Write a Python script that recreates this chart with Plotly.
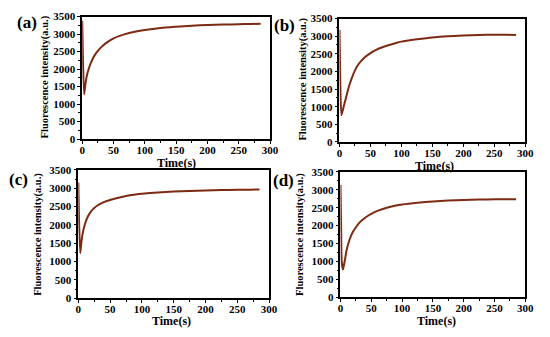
import plotly.graph_objects as go

# ---- data ----
time_a = [0, 1, 3, 5, 7, 10, 15, 20, 25, 30, 40, 50, 60, 75, 90, 100, 125, 150, 175, 200, 225, 250, 270, 285]
int_a = [3380, 2400, 1280, 1550, 1780, 1990, 2230, 2400, 2520, 2620, 2770, 2880, 2950, 3030, 3090, 3120, 3175, 3210, 3240, 3258, 3272, 3282, 3290, 3295]

time_b = [0, 1, 3, 5, 7, 10, 15, 20, 25, 30, 40, 50, 60, 75, 90, 100, 125, 150, 175, 200, 225, 250, 270, 285]
int_b = [3180, 2000, 760, 880, 1020, 1220, 1560, 1820, 2030, 2190, 2390, 2520, 2620, 2720, 2800, 2845, 2910, 2965, 3000, 3020, 3035, 3042, 3038, 3030]

time_c = [0, 1, 3, 5, 7, 10, 15, 20, 25, 30, 40, 50, 60, 75, 90, 100, 125, 150, 175, 200, 225, 250, 270, 285]
int_c = [3160, 2200, 1230, 1560, 1780, 2000, 2230, 2370, 2460, 2530, 2620, 2680, 2730, 2790, 2830, 2850, 2885, 2910, 2928, 2940, 2950, 2958, 2962, 2965]

time_d = [0, 1, 2, 4, 7, 10, 15, 20, 25, 30, 40, 50, 60, 75, 90, 100, 125, 150, 175, 200, 225, 250, 270, 285]
int_d = [3140, 2000, 1000, 770, 1020, 1320, 1620, 1820, 1950, 2070, 2220, 2330, 2410, 2500, 2560, 2590, 2640, 2675, 2700, 2718, 2728, 2735, 2737, 2738]

panel_labels = ["(a)", "(b)", "(c)", "(d)"]
x_title = "Time(s)"
y_title = "Fluorescence intensity(a.u.)"

W, H = 550, 337
LINE = "#7d2a12"
FONT = "Liberation Serif"

# panel pixel boxes: (left, right, top, bottom)
boxes = [(81, 273, 11, 138), (344, 534, 13, 141), (77, 272, 170, 303), (345, 534, 172, 302)]
series = [(time_a, int_a), (time_b, int_b), (time_c, int_c), (time_d, int_d)]
label_pos = [(25, 17), (288, 20), (16, 180), (287, 181)]
xt_pos = [(177, 163), (441, 166), (172, 327), (443, 327)]
yt_pos = [(43, 74), (307, 76), (35, 237), (303, 237)]

fig = go.Figure()
for i, ((l, r, t, b), (xs, ys)) in enumerate(zip(boxes, series)):
    n = "" if i == 0 else str(i + 1)
    fig.add_trace(go.Scatter(x=xs, y=ys, mode="lines", line=dict(color=LINE, width=2, shape="spline", smoothing=0.6),
                             xaxis="x" + n, yaxis="y" + n, showlegend=False))
    axcommon = dict(showline=True, linecolor="black", linewidth=1.5, mirror=True, ticks="outside",
                    ticklen=3, tickwidth=1.2, tickcolor="black", showgrid=False, zeroline=False,
                    tickfont=dict(family=FONT, size=11, color="black", weight="bold"))
    fig.layout["xaxis" + n] = dict(domain=[l / W, r / W], range=[0, 300], dtick=50, anchor="y" + n,
                                   ticklabelstandoff=-3,
                                   minor=dict(ticks="outside", ticklen=2, dtick=25, tickcolor="black"),
                                   **axcommon)
    fig.layout["yaxis" + n] = dict(domain=[1 - b / H, 1 - t / H], range=[0, 3500], dtick=500, anchor="x" + n,
                                   minor=dict(ticks="outside", ticklen=2, dtick=250, tickcolor="black"),
                                   **axcommon)
    common = dict(xref="paper", yref="paper", showarrow=False, xanchor="center", yanchor="middle")
    fig.add_annotation(text=panel_labels[i], x=label_pos[i][0] / W, y=1 - label_pos[i][1] / H,
                       font=dict(family=FONT, size=17, color="black", weight="bold"), **common)
    fig.add_annotation(text=x_title, x=xt_pos[i][0] / W, y=1 - xt_pos[i][1] / H,
                       font=dict(family=FONT, size=12, color="black", weight="bold"), **common)
    fig.add_annotation(text=y_title, x=yt_pos[i][0] / W, y=1 - yt_pos[i][1] / H, textangle=-90,
                       font=dict(family=FONT, size=10.5, color="black", weight="bold"), **common)

fig.update_layout(width=W, height=H, margin=dict(l=0, r=0, t=0, b=0),
                  paper_bgcolor="white", plot_bgcolor="white")
fig.write_html("out.html", config={"displayModeBar": False},
               post_script="document.body.style.margin='0';document.body.style.overflow='hidden';")
